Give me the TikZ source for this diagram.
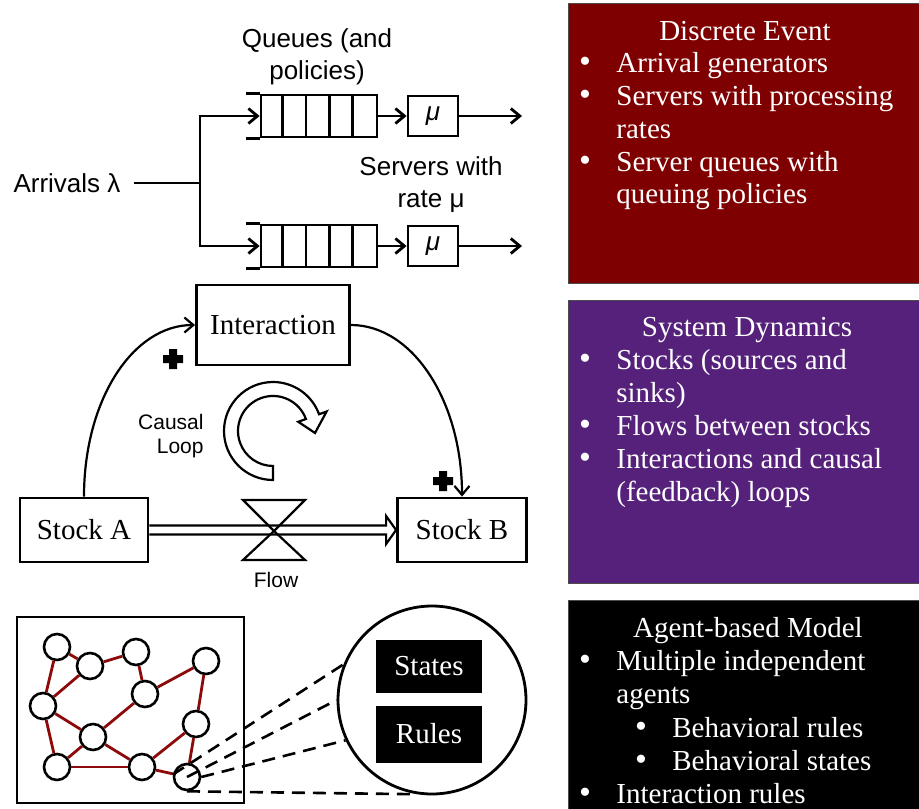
\documentclass[tikz,border=0pt]{standalone}
\usepackage{fontspec}
\setmainfont{Liberation Serif}
\setsansfont{Liberation Sans}
\usetikzlibrary{positioning}
\usetikzlibrary{arrows.meta}
\usetikzlibrary{calc}

\definecolor{deRed}{RGB}{127,0,0}
\definecolor{sdPurple}{RGB}{85,33,122}
\definecolor{linkRed}{RGB}{140,10,10}

\begin{document}
\begin{tikzpicture}[x=1pt,y=-1pt,line width=2.8pt,
    >={Straight Barb[length=9pt,width=15pt]},
    sanslbl/.style={font=\sffamily\fontsize{26}{32}\selectfont, align=center, inner sep=0pt},
    smalllbl/.style={font=\sffamily\fontsize{21}{24}\selectfont, align=right, inner sep=0pt},
    box/.style={draw, rectangle, inner sep=0pt, font=\fontsize{29}{34}\selectfont},
    queue/.style={draw, rectangle, inner sep=0pt, minimum width=116pt, minimum height=42pt},
    server/.style={box, minimum width=50pt, minimum height=40pt, font=\sffamily\itshape\fontsize{26}{30}\selectfont},
    agent/.style={draw, circle, fill=white, minimum size=26pt, inner sep=0pt, line width=2.6pt},
    link/.style={linkRed, line width=2.8pt},
    zoomline/.style={line width=2.6pt, dash pattern=on 13pt off 8pt},
    panel/.style={draw=black!70, line width=1pt, anchor=north west, minimum width=351pt, inner sep=0pt},
    ptitle/.style={text=white, font=\fontsize{29}{34}\selectfont, inner sep=0pt, anchor=mid},
    pitem/.style={text=white, font=\fontsize{29}{34}\selectfont, inner sep=0pt, anchor=mid west},
    pbullet/.style={text=white, font=\fontsize{34}{36}\selectfont, inner sep=0pt, anchor=mid},
    darkbox/.style={fill=black, text=white, minimum width=106pt, inner sep=0pt, font=\fontsize{29}{34}\selectfont}]
    \useasboundingbox (0,0) rectangle (919,809);

    % Discrete event: arrivals, queues and servers
    \node[sanslbl] (arr) at (67,183) {Arrivals λ};
    \coordinate (br) at (200,183);
    \node[queue] (q1) at (319,116) {};
    \node[queue] (q2) at (319,246) {};
    \foreach \q in {q1,q2} {
        \draw (\q.north west) -- ++(-14,0);
        \draw (\q.south west) -- ++(-14,0);
        \foreach \k in {1,...,4}
            \draw ($(\q.north west)+(\k*23.2,0)$) -- ($(\q.south west)+(\k*23.2,0)$);
    }
    \node[server] (s1) at (433,116) {μ};
    \node[server] (s2) at (433,246) {μ};
    \coordinate (o1) at (522,116);
    \coordinate (o2) at (522,246);

    \draw ($(arr.east)+(12,0)$) -- (br);
    \draw[->] (br) |- (q1.west);
    \draw[->] (br) |- (q2.west);
    \draw[->] (q1.east) -- (s1.west);
    \draw[->] (q2.east) -- (s2.west);
    \draw[->] (s1.east) -- (o1);
    \draw[->] (s2.east) -- (o2);

    \node[sanslbl] (qlbl) at (317,57) {Queues (and\\policies)};
    \node[sanslbl] (slbl) at (431,185) {Servers with\\rate μ};

    % System dynamics: stocks, flow and causal loop
    \node[box, minimum width=153pt, minimum height=80pt] (inter) at (273,325) {Interaction};
    \node[box, minimum width=128pt, minimum height=64pt] (sa) at (84,530) {Stock A};
    \node[box, minimum width=129pt, minimum height=64pt] (sb) at (462,530) {Stock B};

    \draw[->, line width=2.2pt] (sa.north) .. controls +(0,-97) and +(-62,0) .. (inter.west);
    \draw[->, line width=2.2pt] (inter.east) .. controls +(62,0) and +(0,-95) .. (sb.north);

    \foreach \px/\py in {173/359, 443/481}
        \fill (\px-10,\py-4) rectangle (\px+10,\py+4) (\px-4,\py-10) rectangle (\px+4,\py+10);

    \draw[line width=2.2pt, fill=white] (273,480) arc[start angle=90, end angle=340, radius=49]
        -- (326.6,411.5) -- (315,433) -- (298.3,421.8) -- (305.9,419.0)
        arc[start angle=340, end angle=90, radius=35] -- cycle;
    \node[smalllbl, anchor=east] (clbl) at (205,436) {Causal\\Loop};

    \coordinate (fv) at (274,531);
    \draw[line width=2.2pt] ($(sa.east)+(0,-4.5)$) -- ($(sb.west)+(-10,-4.5)$) -- ($(sb.west)+(-10,-14)$)
        -- (sb.west) -- ($(sb.west)+(-10,14)$) -- ($(sb.west)+(-10,4.5)$) -- ($(sa.east)+(0,4.5)$);
    \draw[line width=2.2pt] (fv) -- (243,500) -- (305,500) -- cycle (fv) -- (243,560) -- (305,560) -- cycle;
    \node[smalllbl] (flbl) at (276,580) {Flow};

    % Agent based: network of agents and zoomed agent
    \node[draw, minimum width=227pt, minimum height=186pt, inner sep=0pt] (world) at (130.5,710) {};
    \foreach \name/\x/\y in {n1/57/647, n2/90/666, n3/136/652, n4/206/661, n5/43/706, n6/145/694,
                             n7/196/724, n8/93/737, n9/57/767, n10/142/767, n11/187/777}
        \node[agent] (\name) at (\x,\y) {};
    \foreach \a/\b in {1/2, 2/3, 3/6, 6/4, 4/7, 1/5, 2/5, 5/8, 5/9, 8/6, 8/9, 8/10, 9/10, 10/7, 10/11, 7/11}
        \draw[link] (n\a) -- (n\b);

    \node[draw, circle, minimum size=188pt, inner sep=0pt] (zoomc) at (432,700) {};
    \node[darkbox, minimum height=53pt] (states) at (429,666) {States};
    \node[darkbox, minimum height=57pt] (rules) at (429,734) {Rules};
    \draw[zoomline] (n11.170) -- (zoomc.158);
    \draw[zoomline] (n11.center) -- (zoomc.180);
    \draw[zoomline] (n11.east) -- (zoomc.205);
    \draw[zoomline] (n11.south) -- (zoomc.261);

    % Panels on the right
    \node[panel, fill=deRed, minimum height=280pt] (dep) at (568,3) {};
    \node[panel, fill=sdPurple, minimum height=283pt] (sdp) at (568,300) {};
    \node[panel, fill=black, minimum height=212pt] (abp) at (568,600) {};

    \node[ptitle] (detitle) at (745,38) {Discrete Event};
    \foreach \y in {70,103,169}
        \node[pbullet] (debul\y) at (585,\y) {•};
    \foreach \y/\txt in {70/Arrival generators, 103/Servers with processing, 136/rates,
                         169/Server queues with, 201/queuing policies}
        \node[pitem] (deitem\y) at (615,\y) {\txt};

    \node[ptitle] (sdtitle) at (747,334) {System Dynamics};
    \foreach \y in {367,433,466}
        \node[pbullet] (sdbul\y) at (585,\y) {•};
    \foreach \y/\txt in {367/{Stocks (sources and}, 400/{sinks)}, 433/{Flows between stocks},
                         466/{Interactions and causal}, 499/{(feedback) loops}}
        \node[pitem] (sditem\y) at (615,\y) {\txt};

    \node[ptitle] (abtitle) at (748,635) {Agent-based Model};
    \foreach \x/\y in {585/668, 641/735, 641/768, 585/801}
        \node[pbullet] (abbul\y) at (\x,\y) {•};
    \foreach \x/\y/\txt in {615/668/Multiple independent, 615/701/agents, 671/735/Behavioral rules,
                            671/768/Behavioral states, 615/801/Interaction rules}
        \node[pitem] (abitem\y) at (\x,\y) {\txt};
\end{tikzpicture}
\end{document}
